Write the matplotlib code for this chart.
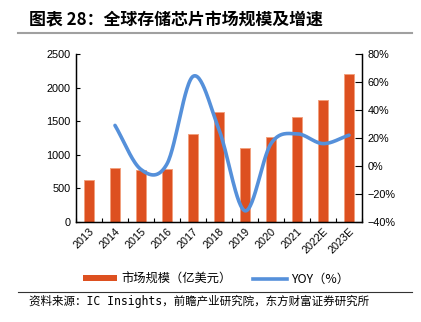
import numpy as np
import matplotlib
matplotlib.use("Agg")
import matplotlib.pyplot as plt
from matplotlib.lines import Line2D
from matplotlib.patches import Patch

plt.rcParams['font.family'] = ['Noto Sans CJK SC', 'DejaVu Sans']
plt.rcParams['axes.unicode_minus'] = True

years = ['2013', '2014', '2015', '2016', '2017', '2018', '2019', '2020', '2021', '2022E', '2023E']
market = [630, 805, 780, 795, 1305, 1635, 1105, 1270, 1560, 1810, 2200]
yoy = [np.nan, 29, -2.5, 1.5, 64, 26, -32, 16, 23, 16, 22]
left_ticks = [0, 500, 1000, 1500, 2000, 2500]
right_ticks = [-40, -20, 0, 20, 40, 60, 80]
title = '图表 28：全球存储芯片市场规模及增速'
source = '资料来源：IC Insights，前瞻产业研究院，东方财富证券研究所'
bar_label = '市场规模（亿美元）'
line_label = 'YOY（%）'

bar_color = '#DD5020'
bar_edge = '#F2A07E'
line_color = '#5590DA'
num_font = ['Liberation Sans', 'DejaVu Sans']

fig = plt.figure(figsize=(4.21, 3.22), dpi=100)
W, H = 421, 322
ax = fig.add_axes([76 / W, 1 - 222 / H, (362 - 76) / W, (222 - 54) / H])
x = np.arange(len(years))
ax.bar(x, market, width=0.41, color=bar_color, edgecolor=bar_edge, linewidth=0.7, zorder=2)
ax.set_xlim(-0.5, len(years) - 0.5)
ax.set_ylim(0, 2500)
ax.set_yticks(left_ticks)
ax.set_yticklabels([str(v) for v in left_ticks], family=num_font, fontsize=7.8)
ax.set_xticks(x)
ax.set_xticklabels(years, rotation=45, ha='right', rotation_mode='anchor', fontsize=7.8, family=num_font)
ax.tick_params(axis='x', length=0, pad=3)
ax.set_xticks(np.arange(-0.5, len(years), 1), minor=True)
ax.tick_params(axis='x', which='minor', direction='in', length=3, width=0.8)
ax.tick_params(axis='y', direction='in', length=3, width=0.8, pad=4)
ax.spines['top'].set_visible(False)
for s in ['left', 'bottom', 'right']:
    ax.spines[s].set_linewidth(1.0)
    ax.spines[s].set_color('black')

ax2 = ax.twinx()
ax2.set_ylim(-40, 80)
ax2.set_yticks(right_ticks)
ax2.set_yticklabels([f'{v}%'.replace('-', '\u2212') for v in right_ticks], family=num_font, fontsize=7.8)
ax2.tick_params(axis='y', direction='in', length=5, width=0.8, pad=4)
ax2.spines['top'].set_visible(False)

# smooth (Catmull-Rom) rendering through the YOY data points
xs = x[1:].astype(float)
ys = np.array(yoy[1:], dtype=float)
P = np.column_stack([xs, ys])
P = np.vstack([P[0] - (P[1] - P[0]), P, P[-1] + (P[-1] - P[-2])])
curve = []
for i in range(1, len(P) - 2):
    p0, p1, p2, p3 = P[i - 1], P[i], P[i + 1], P[i + 2]
    for t in np.linspace(0, 1, 30, endpoint=False):
        t2, t3 = t * t, t * t * t
        pt = 0.5 * ((2 * p1) + (-p0 + p2) * t + (2 * p0 - 5 * p1 + 4 * p2 - p3) * t2 + (-p0 + 3 * p1 - 3 * p2 + p3) * t3)
        curve.append(pt)
curve.append(P[-2])
curve = np.array(curve)
ax2.plot(curve[:, 0], curve[:, 1], color=line_color, lw=2.6, solid_capstyle='round', zorder=3)

# title and rules
fig.text(29 / W, 1 - 20 / H, title, fontsize=12.2, fontweight='bold', va='center', ha='left')
fig.add_artist(Line2D([18 / W, 412 / W], [1 - 33 / H, 1 - 33 / H], color='#A0A0A0', lw=1.5))
fig.add_artist(Line2D([18 / W, 412 / W], [1 - 292 / H, 1 - 292 / H], color='#333333', lw=0.8))
fig.text(29 / W, 1 - 301 / H, source, fontsize=8.3, va='center', ha='left',
         family=['DejaVu Sans Mono', 'Noto Sans CJK SC'])

handles = [Patch(facecolor=bar_color, edgecolor='none'),
           Line2D([0], [0], color=line_color, lw=2.6)]
fig.legend(handles, [bar_label, line_label], loc='center', bbox_to_anchor=(216 / W, 1 - 279 / H),
           ncol=2, frameon=False, fontsize=8.8, handlelength=2.8, handleheight=0.4,
           columnspacing=1.8, handletextpad=0.3)

fig.savefig('out.png', dpi=100)
